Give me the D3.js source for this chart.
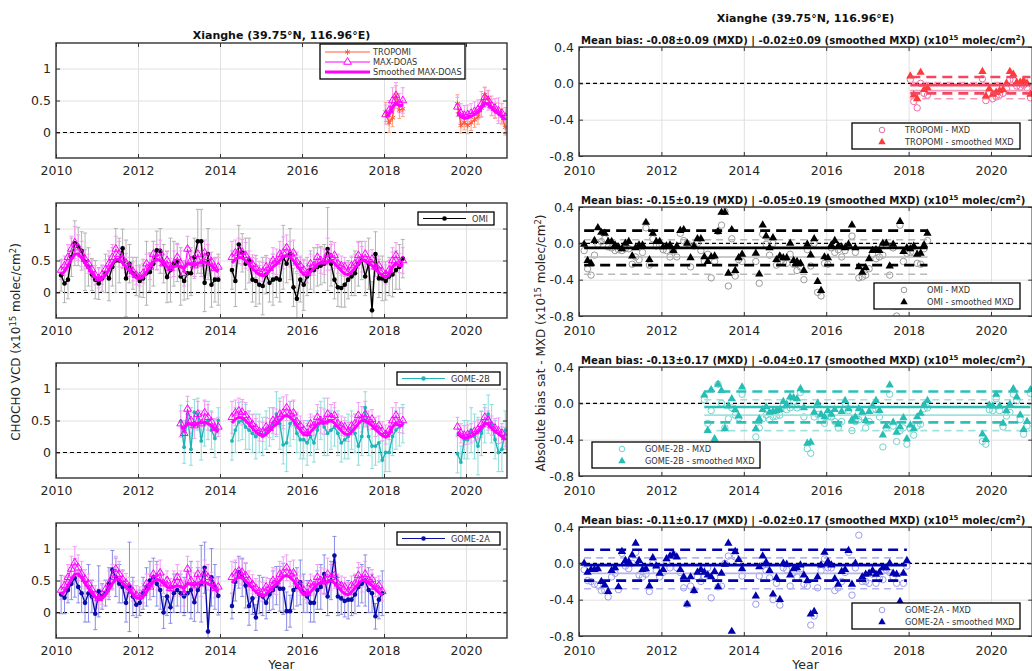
<!DOCTYPE html>
<html>
<head>
<meta charset="utf-8">
<script src="https://cdn.jsdelivr.net/npm/d3@7"></script>
<style>
body { margin: 0; background: #fff; }
text { font-family: "DejaVu Sans", sans-serif; }
</style>
</head>
<body>
<svg id="chart" width="1032" height="671"></svg>
<script>
"use strict";

// ---- data (monthly means, x10^15 molec/cm2) ----
const yearRange = [2010, 2021];
const vcdRange = [-0.4, 1.4];
const biasRange = [-0.8, 0.4];
const xTicks = [2010, 2012, 2014, 2016, 2018, 2020];
const vcdTicks = [0, 0.5, 1];
const biasTicks = [-0.8, -0.4, 0.0, 0.4];

const satNames = ["TROPOMI", "OMI", "GOME-2B", "GOME-2A"];

// MAX-DOAS, first month of each continuous period
const mxdStarts = ["2010-02", "2014-04", "2019-10"];
const mxdVcd = [
    [.35, .42, .55, .68, .78, .70, .60, .52, .45, .36, .27,
     .22, .28, .36, .45, .55, .68, .60, .52, .46, .40, .33, .27,
     .25, .30, .45, .40, .60, .55, .62, .45, .50, .38, .45, .55,
     .45, .30, .68, .50, .42, .60, .45, .62, .55, .48, .38, .40],
    [.55, .62, .65, .63, .58, .50, .44, .38, .33,
     .32, .40, .38, .50, .48, .60, .62, .70, .60, .62, .48, .42,
     .35, .30, .45, .42, .55, .50, .48, .60, .55, .58, .45, .42,
     .40, .32, .42, .45, .58, .52, .60, .50, .52, .40, .42, .33,
     .28, .35, .50, .58, .46, .50],
    [.40, .30, .27, .28, .30, .33, .36, .44, .55, .50, .42, .38, .34, .30, .24],
];
const mxdSmooth = [
    [.28, .33, .42, .52, .60, .60, .54, .46, .38, .30, .24,
     .20, .22, .28, .36, .45, .52, .52, .46, .40, .34, .28, .23,
     .22, .25, .32, .40, .48, .52, .50, .45, .40, .38, .40, .42,
     .40, .38, .45, .44, .42, .46, .46, .48, .45, .42, .36, .32],
    [.46, .52, .55, .54, .50, .44, .38, .32, .28,
     .26, .28, .34, .40, .44, .50, .56, .58, .55, .50, .42, .35,
     .28, .27, .32, .38, .44, .47, .46, .48, .50, .46, .40, .34,
     .29, .28, .32, .38, .45, .50, .50, .46, .42, .36, .31, .27,
     .24, .28, .40, .46, .42, .42],
    [.32, .25, .22, .23, .25, .28, .32, .38, .46, .44, .38, .33, .29, .25, .20],
];
const mxdErr = [
    [.15, .15, .20, .20, .25, .20, .20, .15, .15, .15, .15,
     .15, .15, .15, .20, .20, .20, .20, .15, .15, .15, .15, .15,
     .15, .15, .15, .20, .20, .20, .20, .15, .15, .15, .20, .20,
     .20, .20, .20, .20, .20, .20, .20, .20, .20, .15, .15, .15],
    [.25, .20, .20, .20, .20, .15, .15, .15, .15,
     .15, .15, .15, .20, .20, .20, .25, .20, .20, .20, .15, .15,
     .15, .15, .15, .15, .20, .20, .20, .25, .20, .20, .15, .15,
     .15, .15, .15, .15, .20, .20, .20, .15, .15, .15, .15, .15,
     .15, .15, .20, .20, .15, .20],
    [.15, .15, .15, .15, .15, .15, .15, .20, .15, .15, .15, .15, .20, .15, .15],
];

const tropomiStarts = ["2018-01", "2019-10"];
const tropomiVcd = [
    [.32, .15, .23, .58, .35, .37],
    [.45, .11, .16, .11, .15, .20, .25, .38, .59, .54, .39, .34, .32, .25, .08],
];
const tropomiErr = [
    [.15, .15, .14, .15, .13, .12],
    [.14, .12, .12, .13, .12, .12, .12, .13, .12, .12, .13, .12, .14, .12, .12],
];

const omiStarts = ["2010-02", "2014-04"];
const omiVcd = [
    [.27, .14, .20, .55, .77, .72, .65, .48, .40, .28, .20,
     .14, .22, .30, .22, .40, .50, .50, .69, .22, .45, .30, .25,
     .18, .22, .30, .32, .45, .66, .65, .45, .24, .35, .45, .47,
     .25, .18, .30, .30, .55, .80, .80, .15, .60, .12, .20, .20],
    [.35, .18, .75, .62, .45, .50, .20, .18, .12,
     .10, .28, .15, .20, .22, .20, .55, .45, .60, .08, -.10, .20,
     .12, .25, .35, .35, .40, .42, .45, .68, .45, .20, .08, .07,
     .12, .20, .25, .30, .45, .50, .25, .45, -.28, .60, .22, .22,
     .18, .25, .28, .35, .40, .53],
];
const omiErr = [
    [.25, .30, .30, .30, .35, .30, .30, .45, .30, .25, .30,
     .25, .20, .30, .35, .30, .50, .35, .30, .60, .30, .25, .30,
     .25, .30, .50, .30, .35, .30, .35, .30, .40, .50, .35, .30,
     .45, .30, .40, .35, .30, .50, .50, .45, .40, .35, .35, .40],
    [.30, .40, .30, .30, .40, .35, .35, .40, .30,
     .45, .30, .30, .40, .30, .35, .50, .30, .40, .30, .40, .35,
     .40, .30, .30, .35, .30, .30, .30, .65, .35, .30, .30, .30,
     .35, .30, .30, .35, .35, .30, .30, .40, .45, .35, .30, .35,
     .30, .30, .35, .30, .35, .30],
];

const gome2bStarts = ["2013-01", "2014-04", "2019-10"];
const gome2bVcd = [
    [.49, .08, .60, .05, .63, .60, .18, .45, .50, .35, .22, .50],
    [.18, .35, .48, .50, .40, .35, .30, .25, .30,
     .25, .35, .40, .45, .60, .45, .12, .15, .45, .50, .30, .20,
     .20, .15, .25, .15, .35, .50, .40, .30, .35, .40, .30, .15,
     .20, .25, .35, .30, .10, .25, .70, .25, .10, .10, .15, -.12,
     .00, .00, .25, .35, .40, .45],
    [-.02, -.15, .20, .20, .35, .25, .10, .30, .45, .60, .45, .20, .00, .05, .35],
];
const gome2bErr = [
    [.25, .25, .20, .25, .20, .25, .30, .35, .30, .30, .30, .20],
    [.30, .35, .30, .30, .35, .30, .30, .35, .30,
     .30, .30, .30, .25, .35, .40, .30, .45, .35, .30, .30, .30,
     .30, .35, .30, .30, .30, .30, .45, .35, .30, .30, .35, .30,
     .30, .35, .30, .30, .30, .30, .25, .30, .35, .30, .30, .30,
     .30, .30, .30, .30, .30, .30],
    [.30, .25, .30, .30, .35, .35, .45, .35, .30, .30, .30, .30, .30, .35, .30],
];

const gome2aStarts = ["2010-02", "2014-04"];
const gome2aVcd = [
    [.28, .23, .35, .45, .54, .40, .30, .15, .30, .25, -.02,
     .33, .25, .30, .45, .67, .55, .45, .40, .15, .40, .25, .12,
     .15, .30, .40, .50, .55, .45, .35, .00, .25, .08, .30, .35,
     .30, .25, .30, .35, .16, .35, .45, .70, -.30, .55, .40, .26],
    [.10, .48, .63, .55, .42, .10, .22, -.08, .28,
     .25, .15, .28, .35, .42, .37, .37, .02, .02, .35, .40, .47,
     .30, .25, .15, .15, .35, .40, .60, .25, .50, .89, .25, .22,
     .18, .20, .20, .28, .40, .45, .50, .35, .30, -.06, .20, .30],
];
const gome2aErr = [
    [.30, .25, .20, .25, .30, .25, .30, .30, .45, .25, .25,
     .40, .20, .20, .25, .30, .30, .30, .25, .30, .70, .30, .20,
     .20, .25, .30, .30, .30, .35, .30, .25, .30, .25, .30, .25,
     .30, .30, .30, .45, .30, .35, .60, .40, .30, .45, .35, .30],
    [.20, .30, .25, .30, .35, .30, .25, .20, .30,
     .30, .25, .25, .30, .30, .35, .40, .30, .25, .30, .30, .35,
     .30, .25, .30, .30, .30, .35, .30, .30, .30, .30, .30, .25,
     .25, .30, .25, .30, .30, .30, .40, .35, .30, .20, .30, .35],
];

// mean bias +- std from the panel titles
const biasMxd = [-0.08, -0.15, -0.13, -0.11];
const sdMxd = [0.09, 0.19, 0.17, 0.17];
const biasSmooth = [-0.02, -0.05, -0.04, -0.02];
const sdSmooth = [0.09, 0.19, 0.17, 0.17];

// ---- styles / layout ----
const COLORS = {
    "TROPOMI": { line: "#ff5a3c", err: "#ffa27e", circ: "#ee6aa6", tri: "#ff3a3a", mean: "#f04860", light: "#f59abb" },
    "OMI": { line: "#000000", err: "#b3b3b3", circ: "#9a9a9a", tri: "#000000", mean: "#000000", light: "#b8b8b8" },
    "GOME-2B": { line: "#1fb5b5", err: "#8edcdc", circ: "#6fd3cc", tri: "#26bdb5", mean: "#2cc0b8", light: "#9fe2dd" },
    "GOME-2A": { line: "#0b0ba8", err: "#8c8ce8", circ: "#9c9cec", tri: "#0000b0", mean: "#0000b0", light: "#b3b3f0" },
};
const MAGENTA = "#ff00ff";
const MAGENTA_ERR = "#f39cf3";
const GRID = "#e0e0e0";
const AXIS_TXT = "#262626";

const LEFT = { x0: 56, x1: 507, tops: [43, 203, 363, 523], h: 115 };
const RIGHT = { x0: 579, x1: 1032.2, tops: [47, 207, 367, 527], h: 109 };
const LEFT_LEGEND = [[320, 44, 145, 35], [418, 212, 76, 13], [397, 372, 103, 13], [397, 532, 103, 13]];
const RIGHT_LEGEND = [[852, 123, 168, 26], [874, 283, 146, 26], [592, 442, 168, 26], [852, 603, 168, 26]];

const svg = d3.select("#chart");
const defs = svg.append("defs");
const star = d3.symbolAsterisk || d3.symbolCross;

const monthIndex = (s) => { const [y, m] = s.split("-").map(Number); return y * 12 + m - 1; };
const toSegments = (starts, vals, errs) => starts.map((s, k) => vals[k].map((v, i) => ({
    key: monthIndex(s) + i,
    t: (monthIndex(s) + i + 0.5) / 12,
    v,
    e: errs ? errs[k][i] : 0,
})));

const mxdByKey = new Map();
toSegments(mxdStarts, mxdVcd, mxdErr).flat().forEach((p) => mxdByKey.set(p.key, { v: p.v, e: p.e }));
toSegments(mxdStarts, mxdSmooth).flat().forEach((p) => { mxdByKey.get(p.key).s = p.v; });

const satData = [
    toSegments(tropomiStarts, tropomiVcd, tropomiErr),
    toSegments(omiStarts, omiVcd, omiErr),
    toSegments(gome2bStarts, gome2bVcd, gome2bErr),
    toSegments(gome2aStarts, gome2aVcd, gome2aErr),
];

const ebar = (X, Y1, Y2) => `M${X - 2},${Y1}H${X + 2}M${X},${Y1}V${Y2}M${X - 2},${Y2}H${X + 2}`;
const fix2 = (v) => v.toFixed(2);

function styleAxis(sel) {
    sel.select(".domain").remove();
    sel.selectAll("line").attr("stroke", "#333").attr("stroke-width", 1);
    sel.selectAll("text").attr("fill", AXIS_TXT).attr("font-size", 12.5)
        .attr("font-family", "DejaVu Sans, sans-serif");
}

function frame(g, x, y, yTicks, top, bot, x0, x1, clipId) {
    // grid
    g.append("g").attr("transform", `translate(0,${bot})`)
        .call(d3.axisBottom(x).tickValues(xTicks).tickSize(-(bot - top)).tickFormat(""))
        .call((a) => { a.select(".domain").remove(); a.selectAll("line").attr("stroke", GRID); });
    g.append("g").attr("transform", `translate(${x0},0)`)
        .call(d3.axisLeft(y).tickValues(yTicks).tickSize(-(x1 - x0)).tickFormat(""))
        .call((a) => { a.select(".domain").remove(); a.selectAll("line").attr("stroke", GRID); });
    // zero line
    g.append("line").attr("x1", x0).attr("x2", x1).attr("y1", y(0)).attr("y2", y(0))
        .attr("stroke", "#000").attr("stroke-width", 1.1).attr("stroke-dasharray", "4,3");
    defs.append("clipPath").attr("id", clipId).append("rect")
        .attr("x", x0).attr("y", top).attr("width", x1 - x0).attr("height", bot - top);
    return g.append("g").attr("clip-path", `url(#${clipId})`);
}

function axesAndBox(g, x, y, yTicks, yFmt, top, bot, x0, x1, xPad) {
    g.append("g").attr("transform", `translate(0,${bot})`)
        .call(d3.axisBottom(x).tickValues(xTicks).tickFormat(d3.format("d")).tickSize(-4).tickPadding(xPad))
        .call(styleAxis);
    g.append("g").attr("transform", `translate(0,${top})`)
        .call(d3.axisTop(x).tickValues(xTicks).tickFormat("").tickSize(-4)).call(styleAxis);
    g.append("g").attr("transform", `translate(${x0},0)`)
        .call(d3.axisLeft(y).tickValues(yTicks).tickFormat(yFmt).tickSize(-4).tickPadding(5))
        .call(styleAxis);
    g.append("g").attr("transform", `translate(${x1},0)`)
        .call(d3.axisRight(y).tickValues(yTicks).tickFormat("").tickSize(-4)).call(styleAxis);
    g.append("rect").attr("x", x0).attr("y", top).attr("width", x1 - x0).attr("height", bot - top)
        .attr("fill", "none").attr("stroke", "#333").attr("stroke-width", 1.4);
}

function drawLeft(i) {
    const name = satNames[i];
    const c = COLORS[name];
    const top = LEFT.tops[i];
    const bot = top + LEFT.h;
    const x = d3.scaleLinear().domain(yearRange).range([LEFT.x0, LEFT.x1]);
    const y = d3.scaleLinear().domain(vcdRange).range([bot, top]);
    const g = svg.append("g");
    const plot = frame(g, x, y, vcdTicks, top, bot, LEFT.x0, LEFT.x1, `clipL${i}`);

    const segs = satData[i];
    const pts = segs.flat();
    const mxdSegs = segs.map((seg) => seg.filter((p) => mxdByKey.has(p.key))
        .map((p) => ({ t: p.t, ...mxdByKey.get(p.key) })));
    const mxdPts = mxdSegs.flat();

    plot.append("g").selectAll("path").data(pts).join("path")
        .attr("d", (p) => ebar(x(p.t), y(p.v - p.e), y(p.v + p.e)))
        .attr("stroke", c.err).attr("stroke-width", 1).attr("fill", "none");
    plot.append("g").selectAll("path").data(mxdPts).join("path")
        .attr("d", (p) => ebar(x(p.t), y(p.v - p.e), y(p.v + p.e)))
        .attr("stroke", MAGENTA_ERR).attr("stroke-width", 1).attr("fill", "none");

    const satLine = d3.line().x((p) => x(p.t)).y((p) => y(p.v));
    plot.append("g").selectAll("path").data(segs).join("path")
        .attr("d", satLine).attr("fill", "none").attr("stroke", c.line).attr("stroke-width", 1.4);
    if (name === "TROPOMI") {
        plot.append("g").selectAll("path").data(pts).join("path")
            .attr("transform", (p) => `translate(${x(p.t)},${y(p.v)})`)
            .attr("d", d3.symbol().type(star).size(22))
            .attr("fill", "none").attr("stroke", c.line).attr("stroke-width", 1);
    } else {
        plot.append("g").selectAll("circle").data(pts).join("circle")
            .attr("cx", (p) => x(p.t)).attr("cy", (p) => y(p.v))
            .attr("r", name === "GOME-2B" ? 1.9 : 2.3).attr("fill", c.line);
    }

    plot.append("g").selectAll("path").data(mxdSegs).join("path")
        .attr("d", satLine).attr("fill", "none").attr("stroke", MAGENTA).attr("stroke-width", 1);
    plot.append("g").selectAll("path").data(mxdPts).join("path")
        .attr("transform", (p) => `translate(${x(p.t)},${y(p.v)})`)
        .attr("d", d3.symbol().type(d3.symbolTriangle).size(26))
        .attr("fill", "none").attr("stroke", MAGENTA).attr("stroke-width", 1);
    plot.append("g").selectAll("path").data(mxdSegs).join("path")
        .attr("d", d3.line().x((p) => x(p.t)).y((p) => y(p.s)))
        .attr("fill", "none").attr("stroke", MAGENTA).attr("stroke-width", 3);

    axesAndBox(g, x, y, vcdTicks, (d) => String(d), top, bot, LEFT.x0, LEFT.x1, 8);

    // legend
    const [lx, ly, lw, lh] = LEFT_LEGEND[i];
    const lg = g.append("g");
    lg.append("rect").attr("x", lx).attr("y", ly).attr("width", lw).attr("height", lh)
        .attr("fill", "#fff").attr("stroke", "#000").attr("stroke-width", 1.3);
    const entries = i === 0
        ? [[name, c.line, 1.2, "sat"], ["MAX-DOAS", MAGENTA, 1, "tri"], ["Smoothed MAX-DOAS", MAGENTA, 3, null]]
        : [[name, c.line, 1.2, "sat"]];
    entries.forEach(([label, col, w, mk], k) => {
        const yy = i === 0 ? ly + 8 + k * 10 : ly + lh / 2;
        const xa = lx + 5;
        const xb = lx + (i === 0 ? 50 : 48);
        lg.append("line").attr("x1", xa).attr("x2", xb).attr("y1", yy).attr("y2", yy)
            .attr("stroke", col).attr("stroke-width", w);
        const xm = (xa + xb) / 2;
        if (mk === "sat" && name === "TROPOMI") {
            lg.append("path").attr("transform", `translate(${xm},${yy})`)
                .attr("d", d3.symbol().type(star).size(22)).attr("fill", "none").attr("stroke", col);
        } else if (mk === "sat") {
            lg.append("circle").attr("cx", xm).attr("cy", yy).attr("r", 2.3).attr("fill", col);
        } else if (mk === "tri") {
            lg.append("path").attr("transform", `translate(${xm},${yy})`)
                .attr("d", d3.symbol().type(d3.symbolTriangle).size(26)).attr("fill", "#fff").attr("stroke", col);
        }
        lg.append("text").attr("x", xb + (i === 0 ? 3 : 6)).attr("y", yy + 3).attr("font-size", 8.2)
            .attr("fill", "#333").text(label);
    });
}

function drawRight(i) {
    const name = satNames[i];
    const c = COLORS[name];
    const top = RIGHT.tops[i];
    const bot = top + RIGHT.h;
    const x = d3.scaleLinear().domain(yearRange).range([RIGHT.x0, RIGHT.x1]);
    const y = d3.scaleLinear().domain(biasRange).range([bot, top]);
    const g = svg.append("g");
    const plot = frame(g, x, y, biasTicks, top, bot, RIGHT.x0, RIGHT.x1, `clipR${i}`);

    const diffs = satData[i].flat().filter((p) => mxdByKey.has(p.key)).map((p) => {
        const m = mxdByKey.get(p.key);
        return { t: p.t, d1: p.v - m.v, d2: p.v - m.s };
    });
    const t0 = d3.min(diffs, (d) => d.t);
    const t1 = d3.max(diffs, (d) => d.t);

    plot.append("g").selectAll("circle").data(diffs).join("circle")
        .attr("cx", (d) => x(d.t)).attr("cy", (d) => y(d.d1)).attr("r", 3.2)
        .attr("fill", "none").attr("stroke", c.circ).attr("stroke-width", 1);

    const hline = (val, col, w, dash) => plot.append("line")
        .attr("x1", x(t0)).attr("x2", x(t1)).attr("y1", y(val)).attr("y2", y(val))
        .attr("stroke", col).attr("stroke-width", w).attr("stroke-dasharray", dash);
    hline(biasMxd[i], c.light, 1.6, null);
    hline(biasMxd[i] + sdMxd[i], c.light, 1.6, "7,5");
    hline(biasMxd[i] - sdMxd[i], c.light, 1.6, "7,5");

    plot.append("g").selectAll("path").data(diffs).join("path")
        .attr("transform", (d) => `translate(${x(d.t)},${y(d.d2)})`)
        .attr("d", d3.symbol().type(d3.symbolTriangle).size(30)).attr("fill", c.tri);

    hline(biasSmooth[i], c.mean, 2.6, null);
    hline(biasSmooth[i] + sdSmooth[i], c.mean, 2.6, "10,6");
    hline(biasSmooth[i] - sdSmooth[i], c.mean, 2.6, "10,6");

    axesAndBox(g, x, y, biasTicks, (d) => d.toFixed(1), top, bot, RIGHT.x0, RIGHT.x1, 10);

    // subtitle
    const sub = g.append("text").attr("x", RIGHT.x0 + 2).attr("y", top - 3)
        .attr("font-size", 10.1).attr("font-weight", "bold").attr("fill", "#111");
    sub.append("tspan").text(`Mean bias: ${fix2(biasMxd[i])}±${fix2(sdMxd[i])} (MXD) | `
        + `${fix2(biasSmooth[i])}±${fix2(sdSmooth[i])} (smoothed MXD) (x10`);
    sub.append("tspan").attr("dy", -3.8).attr("font-size", 7).text("15");
    sub.append("tspan").attr("dy", 3.8).text(" molec/cm");
    sub.append("tspan").attr("dy", -3.8).attr("font-size", 7).text("2");
    sub.append("tspan").attr("dy", 3.8).text(")");

    // legend
    const [lx, ly, lw, lh] = RIGHT_LEGEND[i];
    const lg = g.append("g");
    lg.append("rect").attr("x", lx).attr("y", ly).attr("width", lw).attr("height", lh)
        .attr("fill", "#fff").attr("stroke", "#000").attr("stroke-width", 1.3);
    lg.append("circle").attr("cx", lx + 30).attr("cy", ly + 7).attr("r", 2.8)
        .attr("fill", "none").attr("stroke", c.circ);
    lg.append("path").attr("transform", `translate(${lx + 30},${ly + 19})`)
        .attr("d", d3.symbol().type(d3.symbolTriangle).size(24)).attr("fill", c.tri);
    lg.append("text").attr("x", lx + 53).attr("y", ly + 10).attr("font-size", 8.2).attr("fill", "#333")
        .text(`${name} - MXD`);
    lg.append("text").attr("x", lx + 53).attr("y", ly + 22).attr("font-size", 8.2).attr("fill", "#333")
        .text(`${name} - smoothed MXD`);
}

satNames.forEach((n, i) => { drawLeft(i); drawRight(i); });

// titles and axis labels
const title = "Xianghe (39.75°N, 116.96°E)";
svg.append("text").attr("x", (LEFT.x0 + LEFT.x1) / 2).attr("y", 39).attr("text-anchor", "middle")
    .attr("font-size", 11).attr("font-weight", "bold").attr("fill", "#111").text(title);
svg.append("text").attr("x", (RIGHT.x0 + RIGHT.x1) / 2).attr("y", 22).attr("text-anchor", "middle")
    .attr("font-size", 11).attr("font-weight", "bold").attr("fill", "#111").text(title);

function yLabel(xPos, yPos, before) {
    const t = svg.append("text").attr("transform", `translate(${xPos},${yPos}) rotate(-90)`)
        .attr("text-anchor", "middle").attr("font-size", 12).attr("fill", AXIS_TXT);
    t.append("tspan").text(`${before} (x10`);
    t.append("tspan").attr("dy", -4.5).attr("font-size", 8.5).text("15");
    t.append("tspan").attr("dy", 4.5).text(" molec/cm");
    t.append("tspan").attr("dy", -4.5).attr("font-size", 8.5).text("2");
    t.append("tspan").attr("dy", 4.5).text(")");
}
yLabel(20, 342, "CHOCHO VCD");
yLabel(545, 343, "Absolute bias sat - MXD");

svg.append("text").attr("x", (LEFT.x0 + LEFT.x1) / 2).attr("y", 669).attr("text-anchor", "middle")
    .attr("font-size", 12.5).attr("fill", AXIS_TXT).text("Year");
svg.append("text").attr("x", (RIGHT.x0 + RIGHT.x1) / 2).attr("y", 669).attr("text-anchor", "middle")
    .attr("font-size", 12.5).attr("fill", AXIS_TXT).text("Year");
</script>
</body>
</html>
